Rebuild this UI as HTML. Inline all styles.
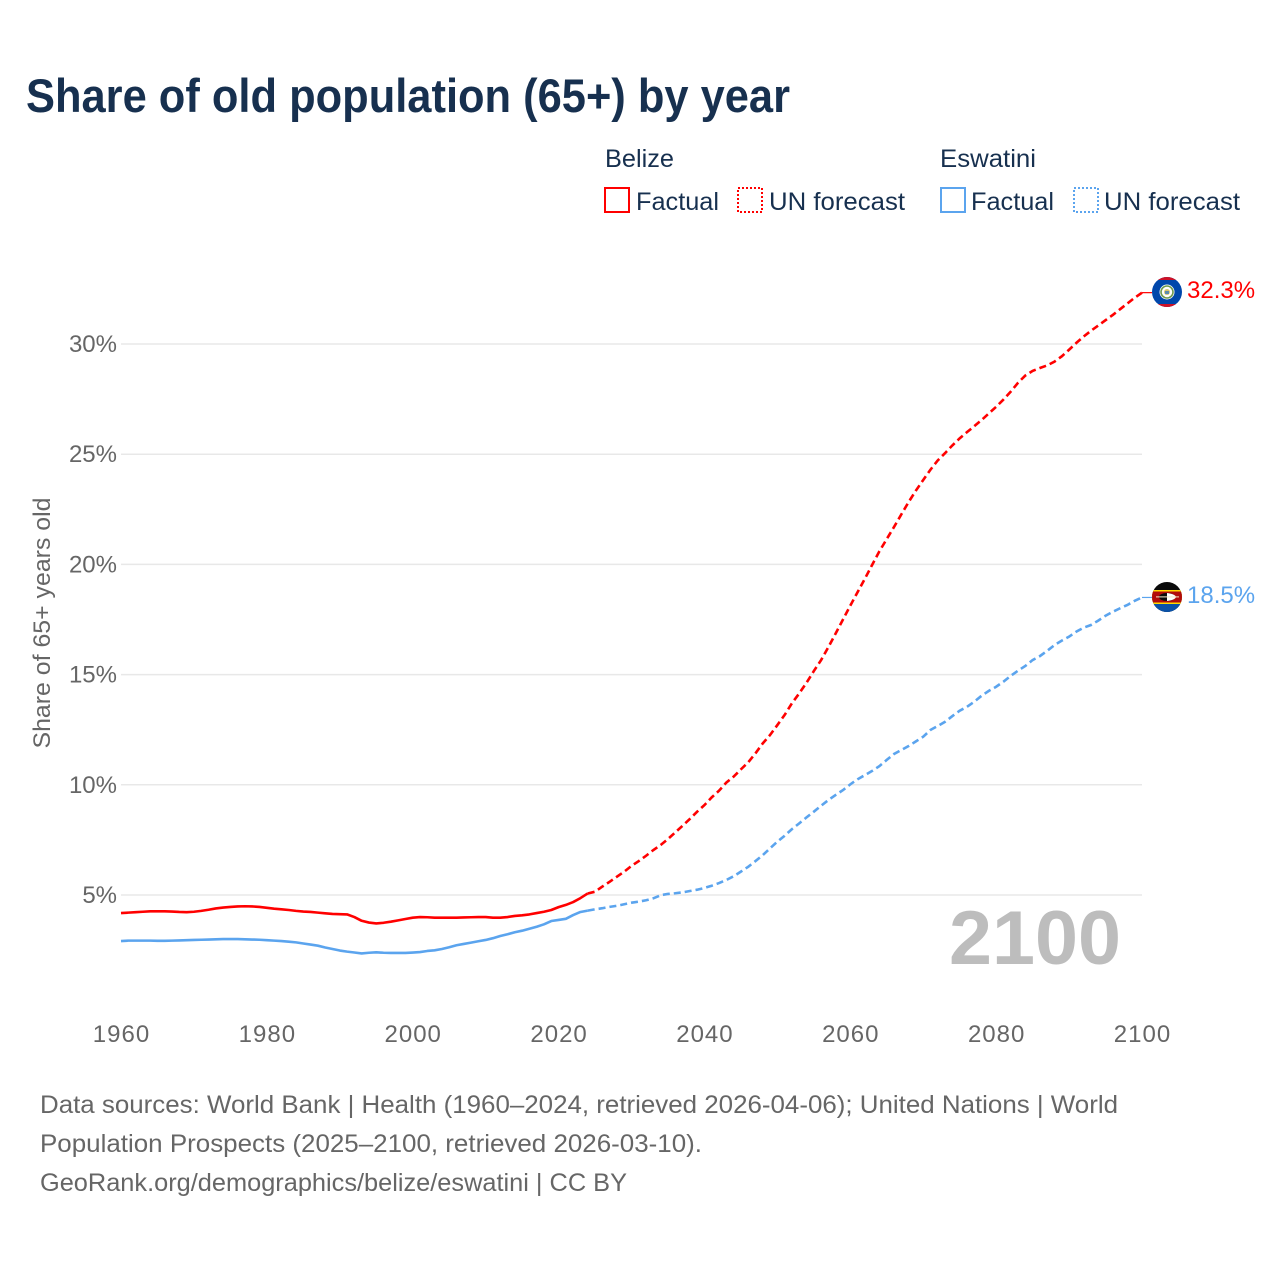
<!DOCTYPE html>
<html lang="en">
<head>
<meta charset="utf-8">
<title>Share of old population (65+) by year</title>
<style>
html,body{margin:0;padding:0;background:#fff;}
svg{display:block;font-family:"Liberation Sans",sans-serif;}
</style>
</head>
<body>
<svg id="chart" xmlns="http://www.w3.org/2000/svg" width="1280" height="1280" viewBox="0 0 1280 1280">
  <defs>
    <clipPath id="flag-clip-belize"><circle cx="1167" cy="292" r="15"/></clipPath>
    <clipPath id="flag-clip-eswatini"><circle cx="1167" cy="597" r="15"/></clipPath>
  </defs>
  <rect width="1280" height="1280" fill="#ffffff"/>

  <text x="26" y="112" font-size="47" font-weight="700" fill="#17304f" textLength="764" lengthAdjust="spacingAndGlyphs">Share of old population (65+) by year</text>

  <g>
    <text x="605" y="167" font-size="25" fill="#17304f" textLength="69" lengthAdjust="spacingAndGlyphs">Belize</text>
    <rect x="605" y="188" width="24" height="24" fill="none" stroke="#ff0000" stroke-width="2"/>
    <text x="636" y="210" font-size="25" fill="#17304f" textLength="83" lengthAdjust="spacingAndGlyphs">Factual</text>
    <rect x="738" y="188" width="24" height="24" fill="none" stroke="#ff0000" stroke-width="2" stroke-dasharray="2 2"/>
    <text x="769" y="210" font-size="25" fill="#17304f" textLength="136" lengthAdjust="spacingAndGlyphs">UN forecast</text>

    <text x="940" y="167" font-size="25" fill="#17304f" textLength="96" lengthAdjust="spacingAndGlyphs">Eswatini</text>
    <rect x="941" y="188" width="24" height="24" fill="none" stroke="#5ba4ee" stroke-width="2"/>
    <text x="971" y="210" font-size="25" fill="#17304f" textLength="83" lengthAdjust="spacingAndGlyphs">Factual</text>
    <rect x="1074" y="188" width="24" height="24" fill="none" stroke="#5ba4ee" stroke-width="2" stroke-dasharray="2 2"/>
    <text x="1104" y="210" font-size="25" fill="#17304f" textLength="136" lengthAdjust="spacingAndGlyphs">UN forecast</text>
  </g>

  <text transform="translate(50,623) rotate(-90)" text-anchor="middle" font-size="24" fill="#666666" textLength="251" lengthAdjust="spacingAndGlyphs">Share of 65+ years old</text>

  <g id="grid"></g>
  <g id="y-ticks"></g>
  <g id="x-ticks"></g>
  <text id="year-label" x="1121" y="964" text-anchor="end" font-size="76" font-weight="700" fill="#bdbdbd" textLength="172" lengthAdjust="spacingAndGlyphs"></text>
  <g id="series"></g>

  <g clip-path="url(#flag-clip-belize)">
    <rect x="1152" y="277" width="30" height="30" fill="#0047ab"/>
    <rect x="1152" y="277" width="30" height="3" fill="#ce1126"/>
    <rect x="1152" y="304" width="30" height="3" fill="#ce1126"/>
    <circle cx="1167" cy="292" r="7.5" fill="#ffffff"/>
    <circle cx="1167" cy="292" r="6" fill="none" stroke="#6f9a4e" stroke-width="1.6"/>
    <circle cx="1167" cy="292" r="3" fill="#d9c66a"/>
    <rect x="1165" y="291" width="4" height="3" fill="#5b8bb0"/>
  </g>
  <g clip-path="url(#flag-clip-eswatini)">
    <rect x="1152" y="582" width="30" height="30" fill="#0a0a0a"/>
    <rect x="1152" y="603" width="30" height="9" fill="#0a52a8"/>
    <rect x="1152" y="590" width="30" height="14" fill="#ffd900"/>
    <rect x="1152" y="591.5" width="30" height="11" fill="#b10c0c"/>
    <ellipse cx="1167" cy="597" rx="8" ry="4" fill="#0a0a0a"/>
    <path d="M1167 593 Q1175 594 1176 597 Q1175 600 1167 601 Z" fill="#ffffff"/>
    <rect x="1156" y="596.4" width="23" height="1" fill="#f4e9c8"/>
  </g>
  <g id="end-labels"></g>

  <g font-size="25" fill="#666666">
    <text x="40" y="1113" textLength="1078" lengthAdjust="spacingAndGlyphs">Data sources: World Bank | Health (1960–2024, retrieved 2026-04-06); United Nations | World</text>
    <text x="40" y="1152" textLength="662" lengthAdjust="spacingAndGlyphs">Population Prospects (2025–2100, retrieved 2026-03-10).</text>
    <text x="40" y="1191" textLength="587" lengthAdjust="spacingAndGlyphs">GeoRank.org/demographics/belize/eswatini | CC BY</text>
  </g>
</svg>
<script>
var firstYear = 1960;
var lastFactualYear = 2024;
var xTickYears = [1960, 1980, 2000, 2020, 2040, 2060, 2080, 2100];
var yTickValues = [5, 10, 15, 20, 25, 30];
var belizeValues = [
  4.18,4.20,4.22,4.24,4.26,4.26,4.26,4.25,4.23,4.22,
  4.24,4.28,4.33,4.39,4.43,4.46,4.48,4.49,4.48,4.46,
  4.42,4.38,4.35,4.32,4.28,4.25,4.23,4.20,4.17,4.14,
  4.13,4.12,4.00,3.83,3.75,3.71,3.74,3.79,3.85,3.91,
  3.97,4.00,3.99,3.97,3.97,3.97,3.97,3.98,3.99,4.00,
  4.00,3.97,3.97,4.00,4.05,4.08,4.12,4.18,4.24,4.32,
  4.45,4.55,4.68,4.86,5.07,5.15,5.38,5.60,5.83,6.06,
  6.32,6.54,6.78,7.04,7.27,7.54,7.84,8.14,8.45,8.78,
  9.08,9.43,9.73,10.10,10.37,10.70,11.02,11.43,11.88,12.26,
  12.71,13.17,13.70,14.15,14.63,15.16,15.66,16.25,16.87,17.50,
  18.13,18.74,19.35,19.98,20.60,21.15,21.70,22.27,22.83,23.35,
  23.83,24.30,24.72,25.05,25.40,25.72,26.00,26.27,26.55,26.85,
  27.15,27.48,27.84,28.24,28.57,28.78,28.91,29.03,29.20,29.44,
  29.74,30.05,30.34,30.60,30.84,31.08,31.32,31.58,31.84,32.10,
  32.33
];
var eswatiniValues = [
  2.91,2.93,2.93,2.93,2.93,2.92,2.92,2.93,2.94,2.95,
  2.96,2.97,2.98,2.99,3.00,3.00,3.00,2.99,2.98,2.97,
  2.95,2.93,2.91,2.88,2.85,2.80,2.75,2.70,2.62,2.55,
  2.48,2.43,2.39,2.35,2.38,2.40,2.38,2.37,2.37,2.37,
  2.39,2.41,2.46,2.49,2.55,2.63,2.72,2.78,2.84,2.90,
  2.96,3.04,3.14,3.22,3.31,3.38,3.47,3.56,3.67,3.82,
  3.87,3.92,4.09,4.23,4.29,4.35,4.40,4.46,4.51,4.58,
  4.65,4.70,4.76,4.85,4.99,5.05,5.08,5.12,5.18,5.24,
  5.32,5.42,5.54,5.68,5.85,6.06,6.28,6.54,6.81,7.12,
  7.42,7.69,7.99,8.25,8.52,8.78,9.05,9.31,9.54,9.76,
  10.02,10.25,10.44,10.63,10.85,11.13,11.40,11.58,11.76,11.97,
  12.18,12.49,12.67,12.86,13.12,13.36,13.54,13.77,14.04,14.26,
  14.45,14.68,14.94,15.18,15.39,15.66,15.84,16.08,16.34,16.54,
  16.72,16.95,17.13,17.25,17.45,17.67,17.85,18.01,18.16,18.35,
  18.50
];
var seriesNames = ["belize", "eswatini"];
var endLabels = ["32.3%", "18.5%"];

var svgNS = "http://www.w3.org/2000/svg";
function xScale(year) { return 121 + (year - 1960) * (1021 / 140); }
function yScale(value) { return 895 - (value - 5) * 22.04; }
function pathFrom(values, startIndex, endIndex) {
  var d = "";
  for (var i = startIndex; i <= endIndex && i < values.length; i++) {
    d += (d ? "L" : "M") + xScale(firstYear + i).toFixed(2) + " " + yScale(values[i]).toFixed(2);
  }
  return d;
}

var gridGroup = document.getElementById("grid");
var yTickGroup = document.getElementById("y-ticks");
yTickValues.forEach(function (v) {
  var line = document.createElementNS(svgNS, "line");
  line.setAttribute("x1", 121);
  line.setAttribute("x2", 1142);
  line.setAttribute("y1", yScale(v));
  line.setAttribute("y2", yScale(v));
  line.setAttribute("stroke", "#e8e8e8");
  line.setAttribute("stroke-width", "1.5");
  
  
  gridGroup.appendChild(line);

  var label = document.createElementNS(svgNS, "text");
  label.setAttribute("x", 117);
  label.setAttribute("y", yScale(v) + 8);
  label.setAttribute("text-anchor", "end");
  label.setAttribute("font-size", "24");
  label.setAttribute("fill", "#666666");
  label.textContent = v + "%";
  
  
  yTickGroup.appendChild(label);
});

var xTickGroup = document.getElementById("x-ticks");
xTickYears.forEach(function (year) {
  var label = document.createElementNS(svgNS, "text");
  label.setAttribute("x", xScale(year) + 0.5);
  label.setAttribute("y", 1042);
  label.setAttribute("text-anchor", "middle");
  label.setAttribute("font-size", "24");
  label.setAttribute("letter-spacing", "1");
  label.setAttribute("fill", "#666666");
  label.textContent = year;
  
  
  xTickGroup.appendChild(label);
});

document.getElementById("year-label").textContent = xTickYears[xTickYears.length - 1];

var seriesGroup = document.getElementById("series");
var seriesColors = ["#ff0000", "#5ba4ee"];
[belizeValues, eswatiniValues].forEach(function (values, idx) {
  var split = lastFactualYear - firstYear;
  var factual = document.createElementNS(svgNS, "path");
  factual.setAttribute("d", pathFrom(values, 0, split));
  factual.setAttribute("fill", "none");
  factual.setAttribute("stroke", seriesColors[idx]);
  factual.setAttribute("stroke-width", "2.6");
  factual.setAttribute("stroke-linejoin", "round");
  
  
  seriesGroup.appendChild(factual);

  var forecast = document.createElementNS(svgNS, "path");
  forecast.setAttribute("d", pathFrom(values, split, values.length - 1));
  forecast.setAttribute("fill", "none");
  forecast.setAttribute("stroke", seriesColors[idx]);
  forecast.setAttribute("stroke-width", "2.6");
  forecast.setAttribute("stroke-dasharray", "7 4");
  
  
  seriesGroup.appendChild(forecast);

  var connector = document.createElementNS(svgNS, "line");
  connector.setAttribute("x1", xScale(firstYear + values.length - 1));
  connector.setAttribute("x2", 1152);
  connector.setAttribute("y1", yScale(values[values.length - 1]));
  connector.setAttribute("y2", yScale(values[values.length - 1]));
  connector.setAttribute("stroke", seriesColors[idx]);
  connector.setAttribute("stroke-width", "1.2");
  
  
  seriesGroup.appendChild(connector);
});

var endLabelGroup = document.getElementById("end-labels");
var endLabelY = [298, 603];
endLabels.forEach(function (text, idx) {
  var label = document.createElementNS(svgNS, "text");
  label.setAttribute("x", 1187);
  label.setAttribute("y", endLabelY[idx]);
  label.setAttribute("font-size", "24");
  label.setAttribute("fill", seriesColors[idx]);
  label.textContent = text;
  
  
  endLabelGroup.appendChild(label);
});
</script>
</body>
</html>
